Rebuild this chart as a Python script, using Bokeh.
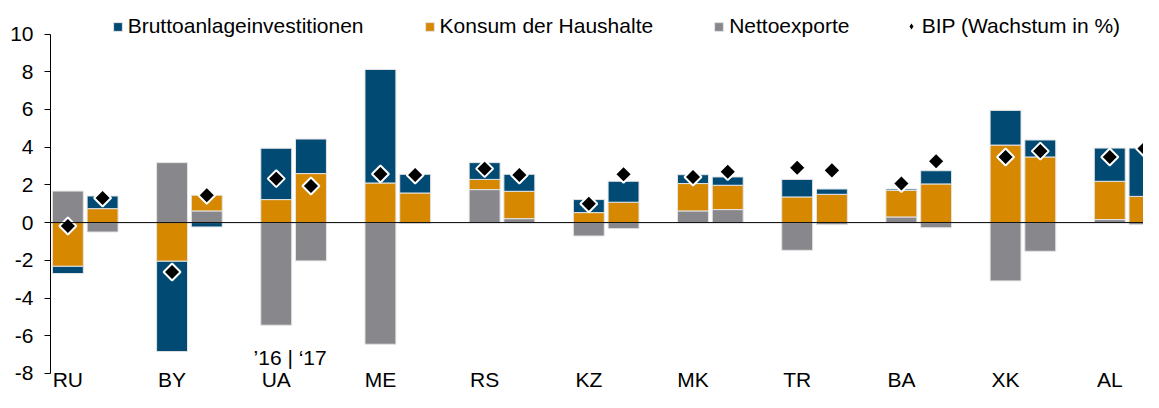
import numpy as np
from bokeh.plotting import figure
from bokeh.models import (ColumnDataSource, Range1d, FixedTicker, Span, Legend,
                          LegendItem, Label, LabelSet)
from bokeh.core.properties import value
from bokeh.embed import file_html
from bokeh.resources import INLINE

# ---------------- data ----------------
countries = ["RU", "BY", "UA", "ME", "RS", "KZ", "MK", "TR", "BA", "XK", "AL"]
years = ["2016", "2017"]

netexp_16 = [1.67, 3.18, -5.44, -6.45, 1.75, -0.71, 0.62, -1.47, 0.30, -3.09, 0.16]
netexp_17 = [-0.50, 0.62, -2.03, -0.05, 0.21, -0.32, 0.69, -0.11, -0.27, -1.52, -0.11]
konsum_16 = [-2.32, -2.05, 1.22, 2.10, 0.54, 0.53, 1.45, 1.36, 1.41, 4.11, 2.03]
konsum_17 = [0.74, 0.83, 2.60, 1.57, 1.45, 1.08, 1.29, 1.50, 2.05, 3.48, 1.39]
invest_16 = [-0.38, -4.79, 2.72, 6.02, 0.89, 0.69, 0.47, 0.93, 0.07, 1.84, 1.76]
invest_17 = [0.67, -0.23, 1.83, 0.99, 0.90, 1.11, 0.44, 0.28, 0.70, 0.90, 2.56]
bip_16 = [-0.18, -2.62, 2.33, 2.58, 2.86, 1.00, 2.42, 2.91, 2.07, 3.48, 3.48]
bip_17 = [1.30, 1.45, 1.94, 2.52, 2.52, 2.56, 2.70, 2.77, 3.25, 3.79, 3.93]

y_ticks = [-8, -6, -4, -2, 0, 2, 4, 6, 8, 10]
year_note = "\u201916 | \u201817"

labels = {"invest": "Bruttoanlageinvestitionen",
          "konsum": "Konsum der Haushalte",
          "netexp": "Nettoexporte",
          "bip": "BIP (Wachstum in %)"}
colors = {"invest": "#004a74", "konsum": "#d68800", "netexp": "#88878c"}

# ---------------- layout ----------------
W, H = 1143, 392
LEFT = 50
SLOT_PX = 34.73              # one slot per bar, 3 slots per country
PX_PER_UNIT = 18.86
ZERO_Y = 222.1               # pixel row of the zero line
FONT = "Liberation Sans"
FS = "21px"

x_end = (W - LEFT) / SLOT_PX
y_top = ZERO_Y / PX_PER_UNIT
y_bot = (ZERO_Y - H) / PX_PER_UNIT

n = len(countries)
xpos = []
for i in range(n):
    xpos += [3 * i + 0.5, 3 * i + 1.5]

def interleave(a, b):
    out = []
    for u, v in zip(a, b):
        out += [u, v]
    return np.array(out, dtype=float)

comp = {
    "netexp": interleave(netexp_16, netexp_17),
    "konsum": interleave(konsum_16, konsum_17),
    "invest": interleave(invest_16, invest_17),
}
bip = interleave(bip_16, bip_17)

p = figure(width=W, height=H, output_backend="svg", toolbar_location=None,
           x_range=Range1d(0, x_end), y_range=Range1d(y_bot, y_top),
           x_axis_location=None, min_border_left=LEFT, min_border_right=0,
           min_border_top=0, min_border_bottom=0, outline_line_color=None,
           background_fill_color="white", border_fill_color="white")
p.xgrid.visible = False
p.ygrid.visible = False

# stacked bars: net exports nearest zero, then consumption, then investment
pos_base = np.zeros(len(xpos))
neg_base = np.zeros(len(xpos))
renderers = {}
for key in ["netexp", "konsum", "invest"]:
    vals = comp[key]
    bottom = np.where(vals >= 0, pos_base, neg_base)
    top = bottom + vals
    pos_base = np.where(vals >= 0, top, pos_base)
    neg_base = np.where(vals < 0, top, neg_base)
    src = ColumnDataSource(dict(x=xpos, bottom=bottom, top=top))
    renderers[key] = p.vbar(x="x", bottom="bottom", top="top", width=0.89,
                            source=src, fill_color=colors[key],
                            line_color="#e4e4e4", line_width=1)

p.add_layout(Span(location=0, dimension="width", line_color="black", line_width=1))

bsrc = ColumnDataSource(dict(x=xpos, y=bip))
p.scatter(x="x", y="y", source=bsrc, marker="square", angle=np.pi / 4, size=12,
          fill_color="black", line_color="white", line_width=2)
# invisible twin used only to draw the legend symbol (a diamond)
bip_legend = p.scatter(x="x", y="y", source=bsrc, marker="diamond", size=10,
                       fill_color="black", line_color="white", line_width=1.5,
                       visible=False)

# y axis
ax = p.yaxis[0]
ax.ticker = FixedTicker(ticks=y_ticks)
ax.bounds = (-8, 10)
ax.major_label_overrides = {t: str(t) for t in y_ticks}
ax.major_label_text_font = FONT
ax.major_label_text_font_size = FS
ax.major_label_text_color = "black"
ax.axis_line_color = "black"
ax.major_tick_line_color = "black"
ax.minor_tick_line_color = None
ax.major_tick_in = 0
ax.major_tick_out = 6
ax.major_label_standoff = 11

# category labels under the first bar of each pair
csrc = ColumnDataSource(dict(x=[3 * i + 0.5 for i in range(n)], y=[6] * n, text=countries))
p.add_layout(LabelSet(x="x", y="y", y_units="screen", text="text", source=csrc,
                      text_align="center", text_baseline="alphabetic",
                      text_font=value(FONT), text_font_size=value(FS),
                      text_color="black"))

p.add_layout(Label(x=3 * countries.index("UA") + 0.9, y=-7.15, text=year_note,
                   text_align="center", text_baseline="alphabetic",
                   text_font=FONT, text_font_size=FS, text_color="black"))

# legends
leg1 = Legend(items=[LegendItem(label=labels[k], renderers=[renderers[k]])
                     for k in ["invest", "konsum", "netexp"]],
              orientation="horizontal", location=(61.7, 354), glyph_width=11,
              glyph_height=11, label_standoff=5, spacing=60, padding=0, margin=0,
              border_line_color=None, background_fill_alpha=0,
              label_text_font=FONT, label_text_font_size=FS, label_text_color="black")
p.add_layout(leg1)

leg2 = Legend(items=[LegendItem(label=labels["bip"], renderers=[bip_legend])],
              orientation="horizontal", location=(849.7, 354), glyph_width=22,
              glyph_height=22, label_standoff=0, padding=0, margin=0,
              border_line_color=None, background_fill_alpha=0,
              label_text_font=FONT, label_text_font_size=FS, label_text_color="black")
p.add_layout(leg2)

open("out.html", "w").write(file_html(p, INLINE))
